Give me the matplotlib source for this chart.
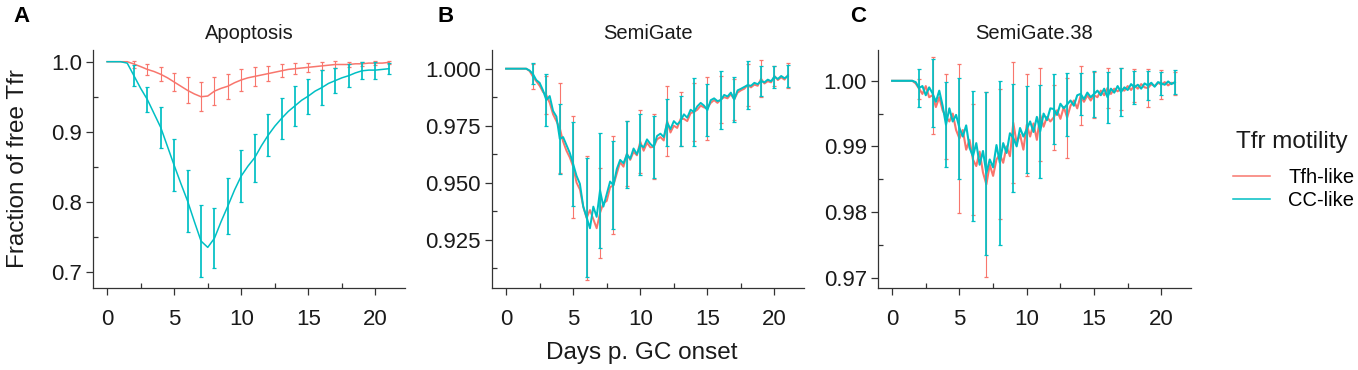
import numpy as np
import pandas as pd
import matplotlib
matplotlib.use("Agg")
import matplotlib.pyplot as plt
from matplotlib.ticker import FormatStrFormatter

plt.rcParams['font.family'] = ['Liberation Sans', 'DejaVu Sans']

# colours of the two Tfr motility groups
RED = "#F8766D"
CYAN = "#00BFC4"
series_names = ["Tfh-like", "CC-like"]

# --- Apoptosis panel: half-day samples from day 0 to 21 ---
days_a = np.arange(0, 21.01, 0.5)
apo_tfh = [1.0, 1.0, 1.0, 1.0, 0.9967, 0.993, 0.989, 0.986, 0.982, 0.977,
           0.971, 0.965, 0.959, 0.954, 0.950, 0.951, 0.958, 0.962, 0.965, 0.970,
           0.974, 0.977, 0.979, 0.981, 0.983, 0.985, 0.987, 0.989, 0.990, 0.991,
           0.992, 0.993, 0.994, 0.995, 0.996, 0.996, 0.996, 0.997, 0.997, 0.998,
           0.998, 0.998, 0.999]
apo_cc = [1.0, 1.0, 1.0, 0.998, 0.980, 0.962, 0.946, 0.926, 0.906, 0.879,
          0.852, 0.826, 0.801, 0.772, 0.744, 0.735, 0.748, 0.772, 0.794, 0.817,
          0.837, 0.851, 0.863, 0.880, 0.895, 0.908, 0.919, 0.929, 0.937, 0.945,
          0.951, 0.958, 0.963, 0.969, 0.973, 0.977, 0.980, 0.984, 0.987, 0.988,
          0.988, 0.989, 0.990]

# error bars are drawn every day from day 2 to 21
bar_days = np.arange(2, 22)
apo_tfh_sd = [0.005, 0.008, 0.010, 0.0126, 0.0186, 0.021, 0.020, 0.018, 0.0155, 0.013,
              0.011, 0.0095, 0.008, 0.0067, 0.0055, 0.0043, 0.004, 0.003, 0.0026, 0.0026]
apo_cc_sd = [0.0148, 0.018, 0.029, 0.037, 0.0445, 0.052, 0.043, 0.040, 0.037, 0.034,
             0.030, 0.029, 0.0286, 0.025, 0.0245, 0.018, 0.0167, 0.012, 0.012, 0.008]

# --- SemiGate panels: quarter-day samples from day 0 to 21 ---
days_q = np.arange(0, 21.01, 0.25)
semi_tfh = [1.0, 1.0, 1.0, 1.0,
            1.0, 1.0, 1.0, 0.9990,
            0.9965, 0.9945, 0.9925, 0.9898,
            0.9884, 0.9850, 0.9800, 0.9770,
            0.9740, 0.9680, 0.9640, 0.9610,
            0.9570, 0.9500, 0.9470, 0.9395,
            0.9345, 0.9380, 0.9340, 0.9300,
            0.9367, 0.9410, 0.9420, 0.9480,
            0.9489, 0.9540, 0.9590, 0.9570,
            0.9628, 0.9600, 0.9635, 0.9620,
            0.9680, 0.9640, 0.9675, 0.9655,
            0.9657, 0.9690, 0.9700, 0.9685,
            0.9771, 0.9720, 0.9750, 0.9740,
            0.9779, 0.9780, 0.9770, 0.9805,
            0.9810, 0.9820, 0.9838, 0.9830,
            0.9827, 0.9850, 0.9862, 0.9850,
            0.9865, 0.9875, 0.9870, 0.9888,
            0.9865, 0.9895, 0.9905, 0.9912,
            0.9928, 0.9918, 0.9930, 0.9925,
            0.9956, 0.9935, 0.9945, 0.9940,
            0.9968, 0.9950, 0.9962, 0.9952,
            0.9972]
semi_cc = [1.0, 1.0, 1.0, 1.0,
           1.0, 1.0, 1.0, 0.9992,
           0.9977, 0.9950, 0.9938, 0.9905,
           0.9862, 0.9880, 0.9815, 0.9790,
           0.9692, 0.9700, 0.9665, 0.9630,
           0.9582, 0.9530, 0.9495, 0.9395,
           0.9348, 0.9300, 0.9395, 0.9350,
           0.9467, 0.9395, 0.9450, 0.9505,
           0.9489, 0.9560, 0.9600, 0.9585,
           0.9624, 0.9605, 0.9650, 0.9625,
           0.9666, 0.9655, 0.9690, 0.9670,
           0.9657, 0.9705, 0.9715, 0.9700,
           0.9763, 0.9735, 0.9770, 0.9755,
           0.9770, 0.9800, 0.9785, 0.9820,
           0.9810, 0.9835, 0.9850, 0.9838,
           0.9818, 0.9862, 0.9870, 0.9858,
           0.9862, 0.9885, 0.9878, 0.9895,
           0.9865, 0.9905, 0.9912, 0.9920,
           0.9928, 0.9925, 0.9938, 0.9932,
           0.9946, 0.9940, 0.9952, 0.9945,
           0.9965, 0.9955, 0.9968, 0.9958,
           0.9968]
semi_tfh_sd = [0.0055, 0.0084, 0.0198, 0.0223, 0.027, 0.0198, 0.0216, 0.0143, 0.0138, 0.0143,
               0.0155, 0.0119, 0.0128, 0.0138, 0.0103, 0.0088, 0.0092, 0.0081, 0.0044, 0.0055]
semi_cc_sd = [0.0046, 0.0114, 0.0152, 0.0185, 0.0261, 0.0253, 0.0194, 0.0146, 0.0134, 0.0135,
              0.0103, 0.011, 0.015, 0.0114, 0.0126, 0.0099, 0.0106, 0.0066, 0.0048, 0.005]

semi38_tfh = [1.0, 1.0, 1.0, 1.0,
              1.0, 1.0, 1.0, 0.9996,
              0.9988, 0.9980, 0.9992, 0.9975,
              0.9978, 0.9960, 0.9975, 0.9955,
              0.9945, 0.9938, 0.9950, 0.9925,
              0.9912, 0.9925, 0.9895, 0.9910,
              0.9880, 0.9870, 0.9892, 0.9860,
              0.9842, 0.9872, 0.9855, 0.9880,
              0.9888, 0.9875, 0.9900, 0.9885,
              0.9936, 0.9905, 0.9918, 0.9895,
              0.9933, 0.9915, 0.9935, 0.9910,
              0.9948, 0.9930, 0.9945, 0.9938,
              0.9944, 0.9955, 0.9942, 0.9960,
              0.9944, 0.9962, 0.9970, 0.9958,
              0.9977, 0.9968, 0.9978, 0.9970,
              0.9978, 0.9975, 0.9985, 0.9978,
              0.9989, 0.9980, 0.9988, 0.9984,
              0.9988, 0.9985, 0.9992, 0.9986,
              0.9993, 0.9988, 0.9995, 0.9990,
              0.9989, 0.9995, 0.9992, 0.9997,
              0.9994, 0.9998, 0.9993, 0.9997,
              0.9996]
semi38_cc = [1.0, 1.0, 1.0, 1.0,
             1.0, 1.0, 1.0, 0.9998,
             0.9989, 0.9992, 0.9978, 0.9990,
             0.9981, 0.9968, 0.9985, 0.9962,
             0.9933, 0.9958, 0.9938, 0.9948,
             0.9928, 0.9915, 0.9932, 0.9898,
             0.9885, 0.9905, 0.9872, 0.9893,
             0.9859, 0.9880, 0.9868, 0.9902,
             0.9875, 0.9905, 0.9890, 0.9920,
             0.9913, 0.9900, 0.9928, 0.9915,
             0.9926, 0.9938, 0.9922, 0.9945,
             0.9923, 0.9950, 0.9940, 0.9958,
             0.9957, 0.9948, 0.9965, 0.9958,
             0.9964, 0.9970, 0.9962, 0.9978,
             0.9980, 0.9972, 0.9982, 0.9975,
             0.9980, 0.9985, 0.9978, 0.9988,
             0.9975, 0.9988, 0.9982, 0.9992,
             0.9983, 0.9990, 0.9986, 0.9995,
             0.9990, 0.9994, 0.9988, 0.9996,
             0.9993, 0.9997, 0.9991, 0.9998,
             0.9996, 0.9994, 0.9999, 0.9995,
             0.9998]
semi38_tfh_sd = [0.0015, 0.0059, 0.0065, 0.0114, 0.0085, 0.0141, 0.0099, 0.0092, 0.0078, 0.0071,
                 0.005, 0.0061, 0.0045, 0.0035, 0.003, 0.0032, 0.0025, 0.0029, 0.0022, 0.0018]
semi38_cc_sd = [0.0029, 0.0052, 0.0065, 0.0077, 0.0099, 0.0124, 0.0125, 0.0082, 0.0066, 0.0071,
                0.0054, 0.0048, 0.0032, 0.0035, 0.0039, 0.0036, 0.0025, 0.0022, 0.0017, 0.0018]

panels = [
    ("A", "Apoptosis", days_a, apo_tfh, apo_cc, apo_tfh_sd, apo_cc_sd),
    ("B", "SemiGate", days_q, semi_tfh, semi_cc, semi_tfh_sd, semi_cc_sd),
    ("C", "SemiGate.38", days_q, semi38_tfh, semi38_cc, semi38_tfh_sd, semi38_cc_sd),
]

# axis settings per panel (limits, ticks, label format)
ylims = [(0.677, 1.0167), (0.9038, 1.0082), (0.9684, 1.0047)]
ymajor = [[0.7, 0.8, 0.9, 1.0], [0.925, 0.95, 0.975, 1.0], [0.97, 0.98, 0.99, 1.0]]
yminor = [[0.75, 0.85, 0.95], [0.9125, 0.9375, 0.9625, 0.9875], [0.975, 0.985, 0.995]]
yfmt = ["%.1f", "%.3f", "%.2f"]
line_w = [1.1, 1.4, 1.5]

W, H = 1358, 370
fig = plt.figure(figsize=(W / 100, H / 100), dpi=100)

# panel boxes in pixels: left, right
boxes = [(93, 405), (492, 804), (878, 1191)]
top_px, bottom_px = 50, 288
letter_x = [13, 437, 850]

lines = []
for i, (letter, title, days, tfh, cc, tfh_sd, cc_sd) in enumerate(panels):
    l, r = boxes[i]
    ax = fig.add_axes([l / W, 1 - bottom_px / H, (r - l) / W, (bottom_px - top_px) / H])

    # red first, cyan on top with slightly wider bars so it covers the red fully
    for vals, sd, col, bw in [(tfh, tfh_sd, RED, 0.8), (cc, cc_sd, CYAN, 1.25)]:
        s = pd.Series(vals, index=np.round(days, 2))
        ln, = ax.plot(days, vals, color=col, lw=line_w[i], zorder=2)
        ax.errorbar(bar_days, s.loc[bar_days.astype(float)].values, yerr=sd,
                    fmt="none", ecolor=col, elinewidth=bw, capsize=1.6,
                    capthick=0.9, zorder=2)
        if i == 0:
            lines.append(ln)

    ax.set_xlim(-1.05, 22.2)
    ax.set_ylim(*ylims[i])
    ax.set_xticks([0, 5, 10, 15, 20])
    ax.set_xticks([2.5, 7.5, 12.5, 17.5], minor=True)
    ax.set_yticks(ymajor[i])
    ax.set_yticks(yminor[i], minor=True)
    ax.yaxis.set_major_formatter(FormatStrFormatter(yfmt[i]))

    for side in ["top", "right"]:
        ax.spines[side].set_visible(False)
    for side in ["left", "bottom"]:
        ax.spines[side].set_color("#333333")
        ax.spines[side].set_linewidth(0.9)
    ax.tick_params(which="major", direction="out", length=5, width=0.9,
                   color="#333333", labelsize=16, labelcolor="#1a1a1a")
    ax.tick_params(axis="x", which="major", pad=10)
    ax.tick_params(axis="y", which="major", pad=3)
    ax.tick_params(which="minor", direction="in", length=3.5, width=0.9, color="#333333")

    ax.set_title(title, fontsize=14.5, pad=8, color="#1a1a1a")
    fig.text(letter_x[i] / W, 1 - 16 / H, letter, fontsize=16, fontweight="bold",
             ha="left", va="center")

fig.text(18 / W, 1 - 169 / H, "Fraction of free Tfr", rotation=90, fontsize=17.5,
         ha="center", va="center", color="#1a1a1a")
fig.text(642 / W, 1 - 353 / H, "Days p. GC onset", fontsize=17.5,
         ha="center", va="center", color="#1a1a1a")

# legend: title as its own text so the gap to the entries matches
fig.text(1236 / W, 1 - 142 / H, "Tfr motility", fontsize=17.5,
         ha="left", va="center", color="#1a1a1a")
fig.legend(lines, series_names, loc="center left",
           bbox_to_anchor=(1233 / W, 1 - 189 / H), frameon=False,
           borderpad=0, borderaxespad=0,
           fontsize=14.5, handlelength=1.85, handletextpad=0.9,
           labelspacing=0.2)

fig.savefig("out.png", dpi=100)
